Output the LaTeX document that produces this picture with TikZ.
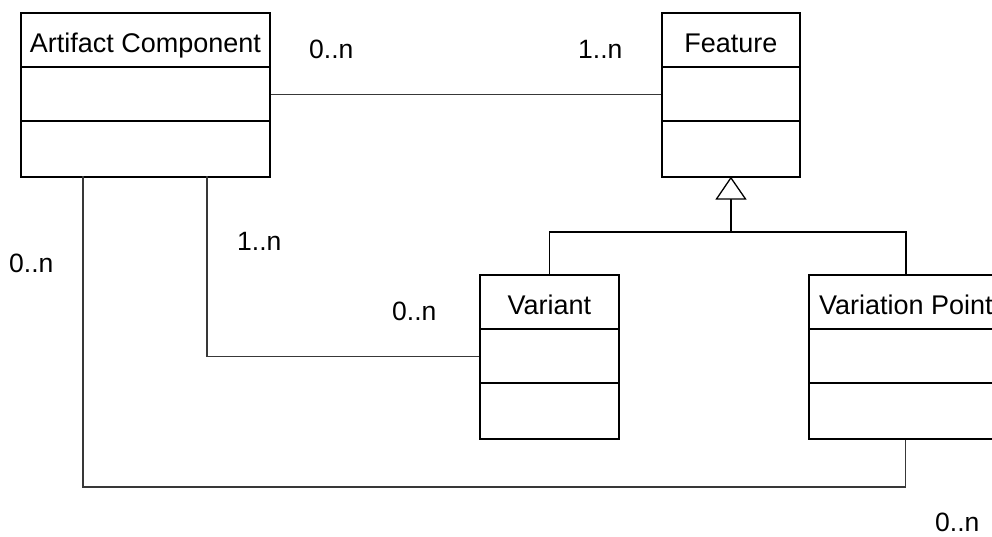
\documentclass[tikz,border=0pt]{standalone}
\usepackage{fontspec}
\setmainfont{Liberation Sans}
\usetikzlibrary{calc}
\tikzset{
  cls/.style={draw=black, line width=1.8pt, fill=white, inner sep=0pt, anchor=north west, minimum height=164pt},
  clsline/.style={draw=black, line width=1.8pt},
  clstext/.style={anchor=base, inner sep=0pt, font=\fontsize{27}{32}\selectfont},
  conn/.style={draw=black!78, line width=1.1pt},
  gen/.style={draw=black, line width=1.3pt, fill=white},
  mult/.style={anchor=base west, inner sep=0pt, font=\fontsize{26.5}{31}\selectfont}
}
\newcommand{\umlclassbox}[5]{%
  \node[cls, minimum width=#4] (#1) at (#2,#3) {};
  \node[clstext] (#1-t) at ($(#1.north)+(0,40)$) {#5};
  \draw[clsline] ($(#1.north west)+(0,55)$) -- ($(#1.north east)+(0,55)$);
  \draw[clsline] ($(#1.north west)+(0,109)$) -- ($(#1.north east)+(0,109)$);
}
\begin{document}
\begin{tikzpicture}[x=1pt,y=-1pt]
\useasboundingbox (0,0) rectangle (992,536);
\clip (0,0) rectangle (992,536);
\fill[white] (0,0) rectangle (992,536);

\coordinate (acv1) at (83,176);
\coordinate (acv2) at (207,176);
\coordinate (gb) at (731,199);
\coordinate (bus) at (731,232);

\umlclassbox{ac}{20}{12}{249}{Artifact Component}
\umlclassbox{fd}{661}{12}{138}{Feature}
\umlclassbox{var}{479}{274}{139}{Variant}
\umlclassbox{vp}{808}{274}{194}{Variation Point}

\draw[conn] (ac.east) -- (fd.west);
\draw[conn] (acv2) |- (var.west);
\draw[conn] (acv1) -- ++(0,311) -| (vp.south);

\draw[conn, draw=black, line width=1.2pt] (gb) -- (bus);
\draw[conn, draw=black, line width=1.2pt] (var.north) |- (bus) -| (vp.north);
\draw[gen] (fd.south) -- ($(gb)+(-14.5,0)$) -- ($(gb)+(14.5,0)$) -- cycle;

\node[mult] (m1) at (309,58) {0..n};
\node[mult] (m2) at (578,58) {1..n};
\node[mult] (m3) at (237,250) {1..n};
\node[mult] (m4) at (9,272) {0..n};
\node[mult] (m5) at (392,320) {0..n};
\node[mult] (m6) at (935,531) {0..n};
\end{tikzpicture}
\end{document}
